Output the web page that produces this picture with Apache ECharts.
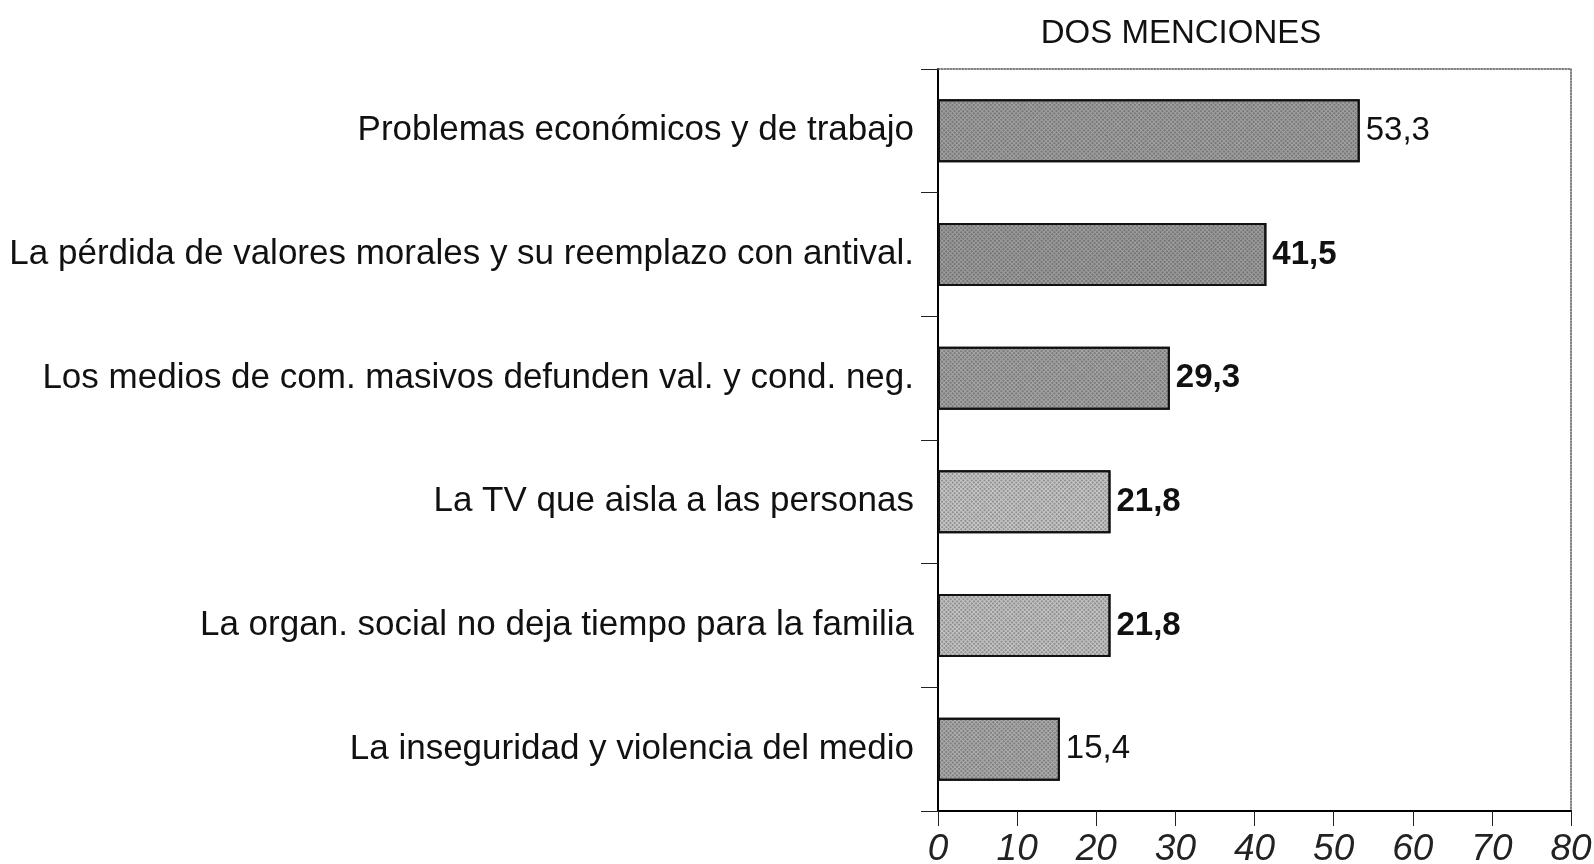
<!DOCTYPE html>
<html><head><meta charset="utf-8">
<script src="https://cdn.jsdelivr.net/npm/echarts@6/dist/echarts.min.js"></script>
<style>html,body{margin:0;padding:0;background:#fff}#c{width:1594px;height:864px}</style>
</head><body><div id="c"></div>
<script>
const categories = [
  "Problemas económicos y de trabajo",
  "La pérdida de valores morales y su reemplazo con antival.",
  "Los medios de com. masivos defunden val. y cond. neg.",
  "La TV que aisla a las personas",
  "La organ. social no deja tiempo para la familia",
  "La inseguridad y violencia del medio"
];
const values = [53.3, 41.5, 29.3, 21.8, 21.8, 15.4];
const valueLabels = ["53,3", "41,5", "29,3", "21,8", "21,8", "15,4"];
const barColors = ["#a2a2a2", "#9e9e9e", "#a6a6a6", "#c9c9c9", "#c6c6c6", "#adadad"];
const labelWeights = ["normal", "bold", "bold", "bold", "bold", "normal"];
const xTicks = [0, 10, 20, 30, 40, 50, 60, 70, 80];
const title = "DOS MENCIONES";

const chart = echarts.init(document.getElementById('c'), null, {renderer: 'canvas'});
const font = "'Liberation Sans', Arial, sans-serif";
chart.setOption({
  animation: false,
  backgroundColor: '#fff',
  title: {
    text: title, left: 1176, top: 12, textAlign: 'center',
    textStyle: {fontFamily: font, fontSize: 33, fontWeight: 'normal', color: '#111'}
  },
  grid: {left: 938, right: 23, top: 69, bottom: 53, containLabel: false, outerBoundsMode: 'none'},
  xAxis: [{
    type: 'value', min: xTicks[0], max: xTicks[xTicks.length - 1], interval: 10,
    axisLine: {show: true, lineStyle: {color: '#000', width: 2}},
    axisTick: {show: true, length: 15, lineStyle: {color: '#222', width: 1}},
    axisLabel: {margin: 20, fontFamily: font, fontStyle: 'italic', fontSize: 37, color: '#222'},
    splitLine: {show: false}
  }, {
    type: 'value', position: 'top', min: 0, max: 80,
    axisLine: {show: true, onZero: false, lineStyle: {color: '#555', width: 1.5, type: 'dotted'}},
    axisTick: {show: false}, axisLabel: {show: false}, splitLine: {show: false}
  }],
  yAxis: [{
    type: 'category', data: categories, inverse: true,
    axisLine: {show: true, lineStyle: {color: '#000', width: 2}},
    axisTick: {show: true, length: 17, lineStyle: {color: '#222', width: 1}},
    axisLabel: {margin: 24, fontFamily: font, fontSize: 35, color: '#111'}
  }, {
    type: 'category', data: categories, inverse: true, position: 'right',
    axisLine: {show: true, onZero: false, lineStyle: {color: '#555', width: 1.5, type: 'dotted'}},
    axisTick: {show: false}, axisLabel: {show: false}
  }],
  series: [{
    type: 'bar', xAxisIndex: 0, yAxisIndex: 0,
    barCategoryGap: '49%',
    data: values.map((v, i) => ({
      value: v,
      itemStyle: {
        color: barColors[i], borderColor: '#111', borderWidth: 2,
        decal: {symbol: 'rect', symbolSize: 1, color: 'rgba(40,40,40,0.35)', dashArrayX: [2, 1], dashArrayY: [2, 1], rotation: 0.785}
      },
      label: {fontWeight: labelWeights[i]}
    })),
    label: {
      show: true, position: 'right', distance: 6,
      fontFamily: font, fontSize: 33, color: '#111',
      formatter: p => valueLabels[p.dataIndex]
    }
  }]
});
</script></body></html>
